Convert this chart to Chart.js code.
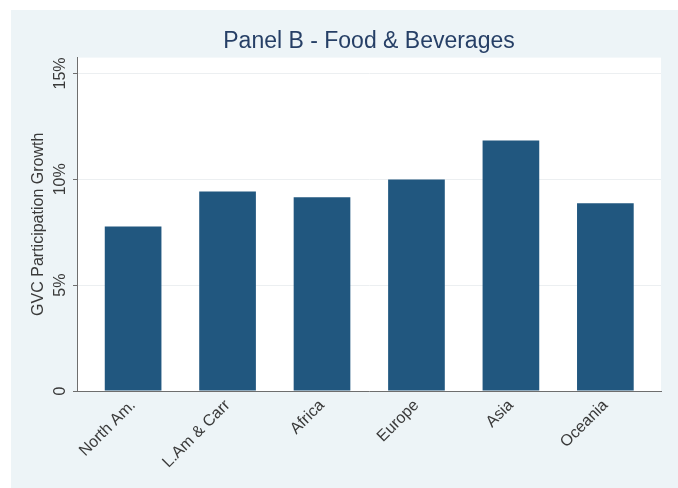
<!DOCTYPE html>
<html>
<head>
<meta charset="utf-8">
<script src="https://cdn.jsdelivr.net/npm/chart.js@4"></script>
<style>
html,body{margin:0;padding:0;background:#fff;}
</style>
</head>
<body>
<canvas id="chart" width="678" height="488"></canvas>
<script>
// data
const regions = ['North Am.', 'L.Am & Carr', 'Africa', 'Europe', 'Asia', 'Oceania'];
const growth = [7.77, 9.42, 9.15, 9.99, 11.83, 8.87];
const yTicks = [0, 5, 10, 15];
const yMax = 15.75;

const barColor = '#21577f';
const axisColor = '#6e6e6e';
const textColor = '#3a3a3a';

Chart.defaults.font.family = "'Liberation Sans', Arial, sans-serif";

// light blue panel + white plot region, like the Stata scheme
const panelBg = {
id:'panelBg',
beforeDraw(chart){
const c = chart.ctx;
const a = chart.chartArea;
c.save();
c.fillStyle = '#edf4f7';
c.fillRect(11, 10, chart.width - 11, chart.height - 10);
c.fillStyle = '#ffffff';
c.fillRect(a.left, a.top, a.right - a.left, a.bottom - a.top);
c.restore();
}
};

const ctx = document.getElementById('chart');

new Chart(ctx,{
type:'bar',
data:{
datasets:[{
data:regions.map((r,i) => ({x:i, y:growth[i]})),
backgroundColor:barColor,
borderWidth:0,
barPercentage:0.6,
categoryPercentage:1
}]
},
options:{
responsive:false,
animation:false,
layout:{padding:{left:0, right:17, top:0, bottom:0}},
plugins:{
legend:{display:false},
tooltip:{enabled:false},
title:{
display:true,
fullSize:false,
text:'Panel B - Food & Beverages',
color:'#263f66',
font:{size:23, weight:'normal'},
padding:{top:28, bottom:2}
}
},
scales:{
x:{
type:'linear',
min:-0.594,
max:5.589,
offset:false,
afterBuildTicks:s => { s.ticks = regions.map((r,i) => ({value:i})); },
afterFit:s => { s.height = 97; },
grid:{display:false, drawTicks:false},
border:{display:true, color:axisColor, width:1},
ticks:{
autoSkip:false,
minRotation:45,
maxRotation:45,
padding:5,
color:textColor,
font:{size:16},
callback:v => regions[v]
}
},
y:{
min:0,
max:yMax,
afterBuildTicks:s => { s.ticks = yTicks.map(v => ({value:v})); },
afterFit:s => { s.width = 77; },
border:{display:true, color:axisColor, width:1},
grid:{color:'#eceff1', tickColor:axisColor, tickLength:4},
ticks:{
minRotation:90,
maxRotation:90,
crossAlign:'center',
padding:-4,
color:textColor,
font:{size:16},
callback:v => v === 0 ? '0' : v + '%'
},
title:{
display:true,
text:'GVC Participation Growth',
color:textColor,
font:{size:16},
padding:{top:29, bottom:0}
}
}
}
},
plugins:[panelBg]
});
</script>
</body>
</html>
